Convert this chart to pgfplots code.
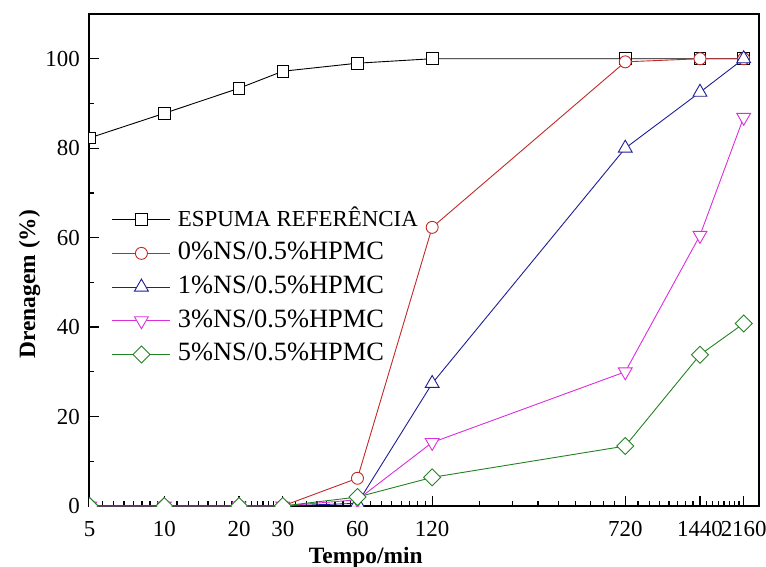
\documentclass[border=0pt]{standalone}
\usepackage{pgfplots}
\pgfplotsset{compat=1.18}
\usepackage{fontspec}
\setmainfont{Liberation Serif}
\definecolor{cred}{RGB}{195,40,40}
\definecolor{cblue}{RGB}{30,30,150}
\definecolor{cmag}{RGB}{220,45,220}
\definecolor{cgreen}{RGB}{35,130,35}
\begin{document}
\begin{tikzpicture}
\useasboundingbox (-89bp,-61bp) rectangle (677bp,506bp);
\begin{axis}[
  scale only axis, width=670bp, height=492bp,
  xmode=log, xmin=4.97, xmax=2490, ymin=0, ymax=110,
  xtick={5,10,20,30,60,120,720,1440,2160},
  xticklabels={5,10,20,30,60,120,720,1440,2160},
  minor xtick={5.625,6.25,6.875,7.5,8.125,8.75,9.375,
    11.25,12.5,13.75,15,16.25,17.5,18.75,
    21.25,22.5,23.75,25,26.25,27.5,28.75,
    33.75,37.5,41.25,45,48.75,52.5,56.25,
    67.5,75,82.5,90,97.5,105,112.5,
    186.67,253.33,320,386.67,453.33,520,586.67,653.33,
    810,900,990,1080,1170,1260,1350,
    1530,1620,1710,1800,1890,1980,2070},
  ytick={0,20,40,60,80,100}, minor ytick={10,30,50,70,90},
  tick align=inside, tick pos=left,
  major tick length=10bp, minor tick length=5bp,
  axis line style={line width=1.6bp},
  every tick/.style={black, line width=1.3bp},
  /pgf/number format/assume math mode=true,
  tick label style={font=\fontsize{23}{26}\selectfont},
  xticklabel style={inner sep=0pt, anchor=base, yshift=-30bp},
  yticklabel style={inner sep=0pt, anchor=east, xshift=-9bp},
  xlabel={Tempo/min}, ylabel={Drenagem (\%)},
  label style={font=\fontsize{23.5}{28}\selectfont\bfseries},
  xlabel style={at={(axis description cs:0.413,0)}, anchor=base, yshift=-57bp, inner sep=0pt},
  ylabel style={at={(axis description cs:0,0.451)}, anchor=base, yshift=54bp, inner sep=0pt},
  clip marker paths=true,
  every axis plot/.append style={line width=0.9bp},
  legend image code/.code={\draw[mark repeat=2,mark phase=2,#1] plot coordinates {(0bp,0bp) (29bp,0bp) (58bp,0bp)};},
  legend style={at={(axis description cs:0.034,0.6098)}, anchor=north west, draw=none, fill=none,
    inner sep=0pt, row sep=6.7bp, column sep=7bp,
    font=\fontsize{26.5}{30}\selectfont,
    nodes={inner sep=0pt, text height=20bp, text depth=7bp}},
  legend cell align=left,
]
\addplot[black, mark=square*, mark size=5.8bp, mark options={fill=white, solid}] coordinates {
(5,82.3)(10,87.8)(20,93.4)(30,97.2)(60,99)(120,100)(720,100)(1440,100)(2160,100)};
\addlegendentry{\fontsize{23}{26}\selectfont ESPUMA REFERÊNCIA}
\addplot[cred, mark=*, mark size=6bp, mark options={fill=white, solid}] coordinates {
(5,0)(10,0)(20,0)(30,0)(60,6.2)(120,62.3)(720,99.3)(1440,100)(2160,100)};
\addlegendentry{0\%NS/0.5\%HPMC}
\addplot[cblue, mark=triangle*, mark size=8bp, mark options={fill=white, solid}] coordinates {
(5,0)(10,0)(20,0)(30,0)(60,0.6)(120,27.4)(720,80)(1440,92.5)(2160,100)};
\addlegendentry{1\%NS/0.5\%HPMC}
\addplot[cmag, mark=triangle*, mark size=8bp, mark options={fill=white, solid, rotate=180}] coordinates {
(5,0)(10,0)(20,0)(30,0)(60,1.4)(120,14.2)(720,30)(1440,60.5)(2160,86.9)};
\addlegendentry{3\%NS/0.5\%HPMC}
\addplot[cgreen, mark=square*, mark size=6bp, mark options={fill=white, solid, rotate=45}] coordinates {
(5,0)(10,0)(20,0)(30,0)(60,2.0)(120,6.4)(720,13.4)(1440,33.8)(2160,40.8)};
\addlegendentry{5\%NS/0.5\%HPMC}
\end{axis}
\end{tikzpicture}
\end{document}
